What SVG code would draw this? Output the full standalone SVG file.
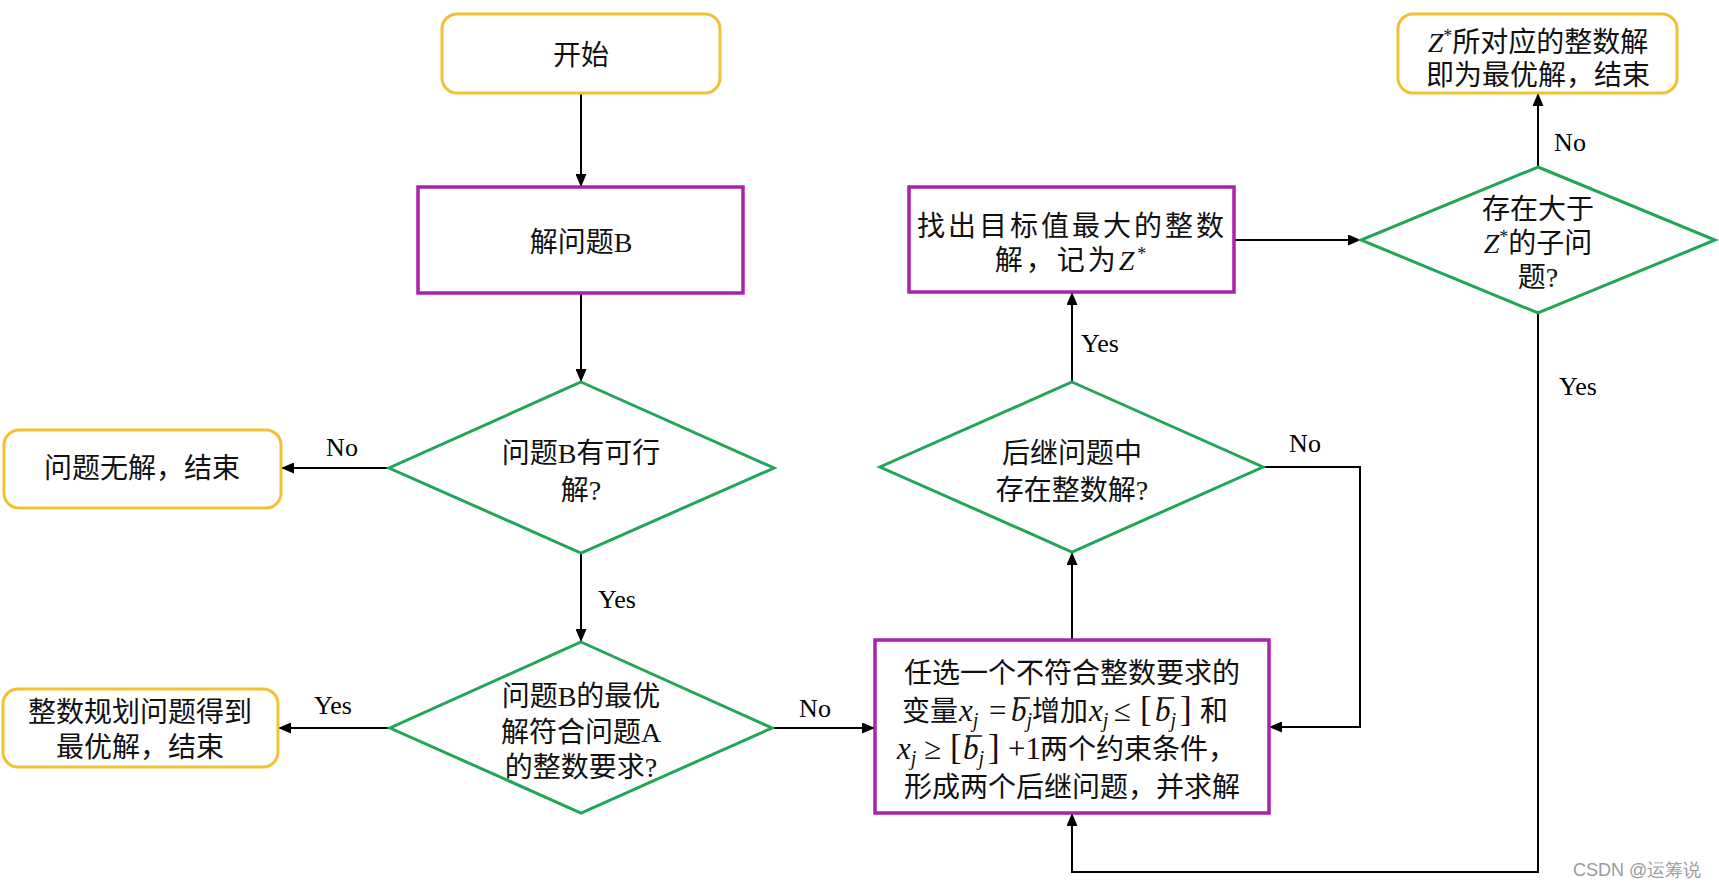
<svg xmlns="http://www.w3.org/2000/svg" width="1719" height="887" viewBox="0 0 1719 887">
<style>
.t{font-family:"Liberation Serif","Noto Sans CJK SC",serif;font-size:28px;fill:#111;text-anchor:middle}
.ts{font-family:"Liberation Serif","Noto Sans CJK SC",serif;font-size:28px;fill:#111;text-anchor:start}
.lbl{font-family:"Liberation Serif",serif;font-size:26px;fill:#000;text-anchor:middle}
.m{font-style:italic}
.mv{font-style:italic;font-size:31px}
.op{font-size:31px}
.br{font-size:35px}
.sub{font-style:italic;font-size:20px}
.sup{font-size:18px}
.ovl{stroke:#111;stroke-width:1.6}
.term{fill:#fff;stroke:#F0C233;stroke-width:3}
.proc{fill:#fff;stroke:#A822AC;stroke-width:3.5}
.dec{fill:#fff;stroke:#22A556;stroke-width:3}
.conn path{fill:none;stroke:#000;stroke-width:2;marker-end:url(#ah)}
.wm{font-family:"Liberation Sans",sans-serif;font-size:18px;fill:#9a9a9a}
</style>
<defs>
<marker id="ah" markerUnits="userSpaceOnUse" markerWidth="13" markerHeight="11" refX="13" refY="5.5" orient="auto">
<path d="M0,0 L13,5.5 L0,11 z" fill="#000"/>
</marker>
</defs>
<rect width="1719" height="887" fill="#fff"/>

<g id="connectors" class="conn">
<path d="M581,93 V187"/>
<path d="M581,293 V382"/>
<path d="M389,468 H281"/>
<path d="M581,553 V642"/>
<path d="M390,728 H278"/>
<path d="M772,728 H875"/>
<path d="M1072,640 V552"/>
<path d="M1072,382 V292"/>
<path d="M1263,467 H1360 V727 H1269"/>
<path d="M1234,240 H1361"/>
<path d="M1538,167 V93"/>
<path d="M1538,313 V872 H1072 V813"/>
</g>

<g id="labels">
<text class="lbl" x="342" y="456">No</text>
<text class="lbl" x="617" y="608">Yes</text>
<text class="lbl" x="333" y="714">Yes</text>
<text class="lbl" x="815" y="717">No</text>
<text class="lbl" x="1100" y="352">Yes</text>
<text class="lbl" x="1305" y="452">No</text>
<text class="lbl" x="1570" y="151">No</text>
<text class="lbl" x="1578" y="395">Yes</text>
</g>

<g id="start">
<rect class="term" x="442" y="14" width="278" height="79" rx="15"/>
<text class="t" x="581" y="65">开始</text>
</g>

<g id="solveB">
<rect class="proc" x="418" y="187" width="325" height="106"/>
<text class="t" x="581" y="252">解问题B</text>
</g>

<g id="feasible">
<polygon class="dec" points="581,382 774,468 581,553 389,468"/>
<text class="t" x="581" y="463">问题B有可行</text>
<text class="t" x="581" y="500">解?</text>
</g>

<g id="nosolution">
<rect class="term" x="4" y="430" width="277" height="78" rx="15"/>
<text class="t" x="142" y="478">问题无解，结束</text>
</g>

<g id="integer">
<polygon class="dec" points="581,642 772,728 581,813 390,728"/>
<text class="t" x="581" y="706">问题B的最优</text>
<text class="t" x="581" y="742">解符合问题A</text>
<text class="t" x="581" y="777">的整数要求?</text>
</g>

<g id="optimal">
<rect class="term" x="3" y="689" width="275" height="78" rx="15"/>
<text class="t" x="140" y="722">整数规划问题得到</text>
<text class="t" x="140" y="757">最优解，结束</text>
</g>

<g id="branch">
<rect class="proc" x="875" y="640" width="394" height="173"/>
<text class="t" x="1072" y="683">任选一个不符合整数要求的</text>
<text class="ts" y="721"><tspan x="902">变量</tspan><tspan class="mv" x="959">x</tspan><tspan class="sub" dy="6">j</tspan><tspan class="op" x="989" dy="-6">=</tspan><tspan class="mv" x="1011">b</tspan><tspan class="sub" dy="6">j</tspan><tspan x="1032" dy="-6">增加</tspan><tspan class="mv" x="1089">x</tspan><tspan class="sub" dy="6">j</tspan><tspan class="op" x="1114" dy="-6">≤</tspan><tspan class="br" x="1140">[</tspan><tspan class="mv" x="1155">b</tspan><tspan class="sub" dy="6">j</tspan><tspan class="br" x="1180" dy="-6">]</tspan><tspan x="1200">和</tspan></text>
<line class="ovl" x1="1014" y1="698" x2="1030" y2="698"/>
<line class="ovl" x1="1158" y1="698" x2="1174" y2="698"/>
<text class="ts" y="759"><tspan class="mv" x="897">x</tspan><tspan class="sub" dy="6">j</tspan><tspan class="op" x="924" dy="-6">≥</tspan><tspan class="br" x="950">[</tspan><tspan class="mv" x="963">b</tspan><tspan class="sub" dy="6">j</tspan><tspan class="br" x="988" dy="-6">]</tspan><tspan class="op" x="1008">+1</tspan><tspan x="1040">两个约束条件，</tspan></text>
<line class="ovl" x1="966" y1="736" x2="982" y2="736"/>
<text class="t" x="1072" y="797">形成两个后继问题，并求解</text>
</g>

<g id="hasinteger">
<polygon class="dec" points="1072,382 1263,467 1072,552 880,467"/>
<text class="t" x="1072" y="463">后继问题中</text>
<text class="t" x="1072" y="500">存在整数解?</text>
</g>

<g id="findmax">
<rect class="proc" x="909" y="187" width="325" height="105"/>
<text class="t" x="1072" y="236" letter-spacing="3">找出目标值最大的整数</text>
<text class="t" x="1072" y="270" letter-spacing="3">解，记为<tspan class="m">Z</tspan><tspan class="sup" dy="-10">*</tspan></text>
</g>

<g id="larger">
<polygon class="dec" points="1538,167 1715,240 1538,313 1361,240"/>
<text class="t" x="1538" y="219">存在大于</text>
<text class="t" x="1538" y="253"><tspan class="m">Z</tspan><tspan class="sup" dy="-10">*</tspan><tspan dy="10">的子问</tspan></text>
<text class="t" x="1538" y="287">题?</text>
</g>

<g id="final">
<rect class="term" x="1398" y="14" width="279" height="79" rx="15"/>
<text class="t" x="1538" y="52"><tspan class="m">Z</tspan><tspan class="sup" dy="-10">*</tspan><tspan dy="10">所对应的整数解</tspan></text>
<text class="t" x="1538" y="85">即为最优解，结束</text>
</g>

<text class="wm" x="1573" y="876">CSDN @运筹说</text>
</svg>
